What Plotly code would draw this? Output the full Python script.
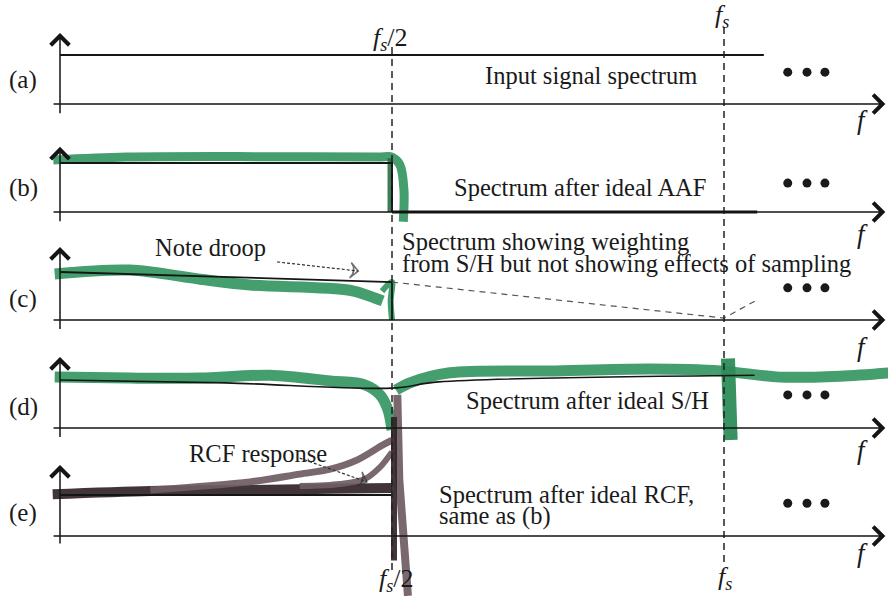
import plotly.graph_objects as go

W, H = 888, 596
F0_PX, PX_PER_FS = 60, 664          # frequency axis: f=0 at x=60px, fs = 664px

# ---------------- data (frequency in units of fs, amplitude relative) ----------------
panel_names = ["(a)", "(b)", "(c)", "(d)", "(e)"]

axis_f_start, axis_f_end = -0.012, 1.243
vert_axis_bottom = -0.22
vert_axis_top = [1.45, 1.33, 1.52, 1.48, 1.73]

ellipsis_f = [1.096, 1.125, 1.152]
ellipsis_amp = [0.65, 0.59, 0.67, 0.69, 0.80]

# (a) input spectrum
a_f = [0.0, 1.06]
a_amp = [1.0, 1.0]

# (b) ideal AAF
b_ideal_f = [0.0, 0.5, 0.5]
b_ideal_amp = [1.0, 1.0, 0.0]
b_green_f = [-0.01, 0.1, 0.3, 0.48, 0.5, 0.512, 0.518, 0.517]
b_green_amp = [1.06, 1.12, 1.13, 1.12, 1.12, 0.96, 0.45, -0.2]
b_green_edge_f = [0.497, 0.497]
b_green_edge_amp = [1.1, 0.0]
b_tail_f = [0.5, 1.05]
b_tail_amp = [0.0, 0.0]

# (c) S/H weighting (droop)
c_ideal_f = [0.0, 0.5, 0.5]
c_ideal_amp = [1.0, 0.79, 0.0]
c_green_f = [-0.008, 0.105, 0.211, 0.286, 0.436, 0.474, 0.486]
c_green_amp = [0.96, 1.04, 0.85, 0.73, 0.62, 0.46, 0.40]
c_green_edge_f = [0.485, 0.495, 0.5, 0.498, 0.5]
c_green_edge_amp = [0.6, 0.75, 0.79, 0.4, 0.0]
c_sinc_f = [0.5, 1.0, 1.05]
c_sinc_amp = [0.79, 0.04, 0.42]
c_note_f = [0.327, 0.449]
c_note_amp = [1.21, 1.02]

# (d) after ideal S/H
d_black_f = [0.0, 0.25, 0.5, 0.57, 1.046]
d_black_amp = [1.0, 0.94, 0.83, 0.96, 1.10]
d_green_left_f = [-0.008, 0.105, 0.211, 0.316, 0.407, 0.459, 0.482, 0.494, 0.5]
d_green_left_amp = [1.06, 1.04, 1.04, 1.10, 0.98, 0.90, 0.69, 0.375, -0.04]
d_green_right_f = [0.506, 0.527, 0.587, 0.738, 0.889, 0.994, 1.084, 1.175, 1.25]
d_green_right_amp = [0.79, 0.94, 1.15, 1.19, 1.23, 1.19, 1.06, 1.08, 1.15]
d_blob_f = [1.006, 1.008, 1.010]
d_blob_amp = [1.45, 0.6, -0.25]

# (e) after ideal RCF
e_ideal_f = [0.0, 0.5]
e_ideal_amp = [1.0, 1.0]
e_band_f = [-0.011, 0.136, 0.286, 0.407, 0.5]
e_band_amp = [1.02, 1.1, 1.12, 1.15, 1.17]
e_rcf1_f = [0.136, 0.286, 0.361, 0.407, 0.447, 0.486, 0.5]
e_rcf1_amp = [1.12, 1.32, 1.51, 1.63, 1.85, 2.22, 2.34]
e_rcf2_f = [0.361, 0.422, 0.459, 0.482, 0.5]
e_rcf2_amp = [1.22, 1.27, 1.39, 1.68, 2.05]
e_wall_f = [0.508, 0.511, 0.524]
e_wall_amp = [3.44, 1.37, -1.46]
e_wall2_f = [0.503, 0.503]
e_wall2_amp = [2.9, -0.6]
e_note_f = [0.361, 0.462]
e_note_amp = [1.90, 1.32]

# ---------------- layout geometry ----------------
base_px = [104, 212, 320, 428, 536]
unit_px = [55, 163, 272, 380, 495]
ynames = ["y", "y2", "y3", "y4", "y5"]

GREEN = "rgba(52,150,98,0.92)"
DARK = "rgba(50,36,40,0.92)"
GREY = "rgba(110,92,98,0.92)"
BLACK = "#151515"
FONT = "Liberation Serif, Times New Roman, serif"
FS = 24.5

fig = go.Figure()


def line(f, amp, yi, color, width, dash=None, spline=False, opacity=1.0):
    fig.add_trace(go.Scatter(
        x=f, y=amp, yaxis=ynames[yi], mode="lines",
        line=dict(color=color, width=width, dash=dash,
                  shape="spline" if spline else "linear", smoothing=0.9),
        opacity=opacity, hoverinfo="skip", showlegend=False))


def px(x, y):
    return x / W, 1 - y / H


def text(s, x, y, size=FS, xanchor="center"):
    xp, yp = px(x, y)
    fig.add_annotation(x=xp, y=yp, xref="paper", yref="paper", text=s,
                       showarrow=False, xanchor=xanchor, yanchor="middle",
                       font=dict(family=FONT, size=size, color="#1a1a1a"))


def arrow(x0, y0, x1, y1, yi):
    fig.add_annotation(x=x1, y=y1, ax=x0, ay=y0, xref="x", yref=ynames[yi],
                       axref="x", ayref=ynames[yi], text="", showarrow=True,
                       arrowhead=4, arrowsize=2.4, arrowwidth=1.5,
                       arrowcolor=BLACK, standoff=0, startstandoff=0)


# ---- green / dark hand strokes (drawn first, under the black lines)
line(b_green_f, b_green_amp, 1, GREEN, 9, spline=True)
line(b_green_edge_f, b_green_edge_amp, 1, "rgba(40,110,70,0.9)", 5)
line(c_green_f, c_green_amp, 2, GREEN, 11, spline=True)
line(c_green_edge_f, c_green_edge_amp, 2, GREEN, 6, spline=True)
line(d_green_left_f, d_green_left_amp, 3, GREEN, 11, spline=True)
line(d_green_right_f, d_green_right_amp, 3, GREEN, 11, spline=True)
line(d_blob_f, d_blob_amp, 3, "rgba(45,140,88,0.95)", 14)
line(e_band_f, e_band_amp, 4, DARK, 10, spline=True)
line(e_rcf1_f, e_rcf1_amp, 4, GREY, 7, spline=True)
line(e_rcf2_f, e_rcf2_amp, 4, GREY, 6, spline=True)
line(e_wall_f, e_wall_amp, 4, GREY, 8)
line(e_wall2_f, e_wall2_amp, 4, DARK, 6)

# ---- black ideal lines
line(a_f, a_amp, 0, BLACK, 2)
line(b_ideal_f, b_ideal_amp, 1, BLACK, 2)
line(b_tail_f, b_tail_amp, 1, BLACK, 3)
line(c_ideal_f, c_ideal_amp, 2, BLACK, 1.8)
line(c_sinc_f, c_sinc_amp, 2, "#555", 1.2, dash="6px,5px")
line(d_black_f, d_black_amp, 3, BLACK, 1.6, spline=True)
line(e_ideal_f, e_ideal_amp, 4, BLACK, 1.8)

# ---- axes of each panel, ellipsis dots, labels
for i in range(5):
    arrow(axis_f_start, 0, axis_f_end, 0, i)
    arrow(0, vert_axis_bottom, 0, vert_axis_top[i], i)
    fig.add_trace(go.Scatter(x=ellipsis_f, y=[ellipsis_amp[i]] * 3, yaxis=ynames[i],
                             mode="markers", marker=dict(size=9, color="#1a1a1a"),
                             hoverinfo="skip", showlegend=False))

# droop note arrow and RCF note arrow (dashed, with head)
for f, amp, yi in [(c_note_f, c_note_amp, 2), (e_note_f, e_note_amp, 4)]:
    fig.add_trace(go.Scatter(x=f, y=amp, yaxis=ynames[yi], mode="lines+markers",
                             line=dict(color="#333", width=1.2, dash="3px,2px"),
                             marker=dict(symbol="arrow-wide-open", size=[0, 11],
                                         angleref="previous",
                                         line=dict(color="#222", width=1.6)),
                             hoverinfo="skip", showlegend=False))

# dashed vertical lines at fs/2 and fs
fig.add_shape(type="line", xref="x", yref="paper", x0=0.5, x1=0.5,
              y0=1 - 47 / H, y1=1 - 572 / H,
              line=dict(color="#222", width=1.5, dash="7px,5px"))
fig.add_shape(type="line", xref="x", yref="paper", x0=1.0, x1=1.0,
              y0=1 - 27 / H, y1=1 - 567 / H,
              line=dict(color="#222", width=1.5, dash="7px,5px"))

# texts
label_y = [80, 188, 299, 407, 513]
for name, y in zip(panel_names, label_y):
    text(name, 23, y, size=25)

text("Input signal spectrum", 591, 75)
text("Spectrum after ideal AAF", 580, 187)
text("Spectrum showing weighting", 400, 241, xanchor="left")
text("from S/H but not showing effects of sampling", 400, 263, xanchor="left")
text("Note droop", 210, 247)
text("Spectrum after ideal S/H", 587, 400)
text("RCF response", 258, 453)
text("Spectrum after ideal RCF,", 437, 494, xanchor="left")
text("same as (b)", 437, 516, xanchor="left")

fs2 = "<i>f</i><sub><i>s</i></sub>/2"
fs1 = "<i>f</i><sub><i>s</i></sub>"
text(fs2, 390, 39, size=26)
text(fs1, 722, 16, size=26)
text(fs2, 396, 580, size=26)
text(fs1, 725, 578, size=26)
for y in [120, 234, 347, 450, 553]:
    text("<i>f</i>", 862, y, size=27)

# axes ranges: each panel has its own amplitude axis, baseline=0, level=1
layout_axes = {}
for i, yn in enumerate(ynames):
    b, u = base_px[i], unit_px[i]
    k = b - u
    key = "yaxis" if i == 0 else f"yaxis{i + 1}"
    ax = dict(range=[(b - H) / k, b / k], domain=[0, 1], visible=False, fixedrange=True)
    if i > 0:
        ax["overlaying"] = "y"
    layout_axes[key] = ax

fig.update_layout(
    width=W, height=H, margin=dict(l=0, r=0, t=0, b=0),
    paper_bgcolor="white", plot_bgcolor="white",
    xaxis=dict(range=[-F0_PX / PX_PER_FS, (W - F0_PX) / PX_PER_FS],
               visible=False, fixedrange=True),
    showlegend=False,
    **layout_axes,
)

fig.write_html("out.html", config={"displayModeBar": False},
               post_script="document.body.style.margin='0';document.body.style.overflow='hidden';")
